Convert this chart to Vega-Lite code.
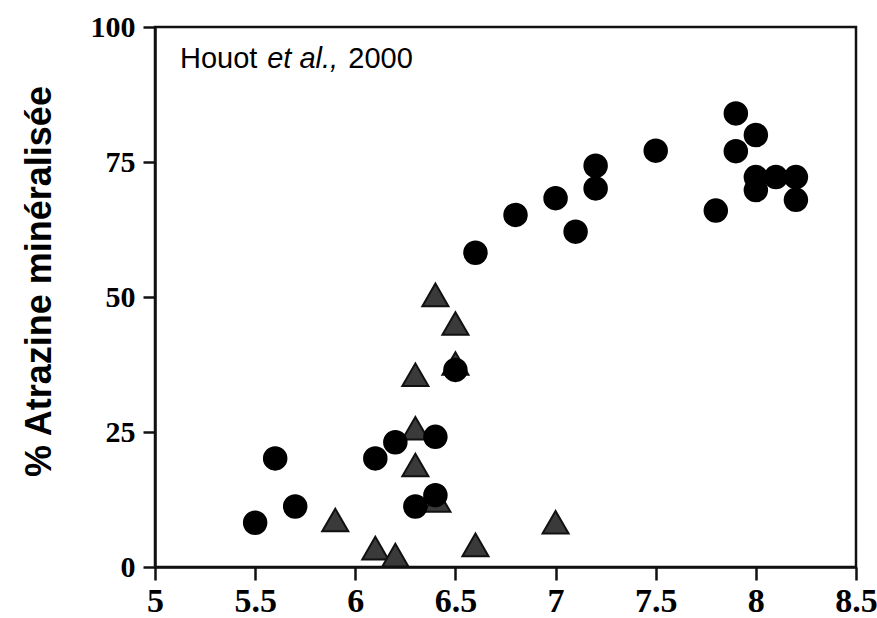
{
  "$schema": "https://vega.github.io/schema/vega-lite/v6.json",
  "width": 701,
  "height": 540,
  "autosize": "none",
  "padding": {"left": 155, "top": 27, "right": 21, "bottom": 51},
  "background": "white",
  "config": {
    "view": {"stroke": "#111", "strokeWidth": 2.5},
    "axis": {
      "grid": false,
      "domainColor": "#111",
      "domainWidth": 2.5,
      "tickColor": "#111",
      "tickWidth": 2.5,
      "labelColor": "black",
      "labelFont": "Liberation Serif",
      "labelFontWeight": "bold",
      "labelFlush": false,
      "labelOverlap": false
    }
  },
  "data": {
    "values": [
      {"pH": 6.4, "atrazine": 50.4, "serie": "triangle"},
      {"pH": 6.5, "atrazine": 45.1, "serie": "triangle"},
      {"pH": 6.3, "atrazine": 35.6, "serie": "triangle"},
      {"pH": 6.3, "atrazine": 25.7, "serie": "triangle"},
      {"pH": 6.3, "atrazine": 18.9, "serie": "triangle"},
      {"pH": 5.9, "atrazine": 8.7, "serie": "triangle"},
      {"pH": 6.1, "atrazine": 3.5, "serie": "triangle"},
      {"pH": 6.2, "atrazine": 2.2, "serie": "triangle"},
      {"pH": 6.6, "atrazine": 4.1, "serie": "triangle"},
      {"pH": 7.0, "atrazine": 8.3, "serie": "triangle"},
      {"pH": 6.5, "atrazine": 37.7, "serie": "triangle"},
      {"pH": 6.41, "atrazine": 12.3, "serie": "triangle"},
      {"pH": 5.5, "atrazine": 8.2, "serie": "cercle"},
      {"pH": 5.6, "atrazine": 20.1, "serie": "cercle"},
      {"pH": 5.7, "atrazine": 11.2, "serie": "cercle"},
      {"pH": 6.1, "atrazine": 20.1, "serie": "cercle"},
      {"pH": 6.2, "atrazine": 23.1, "serie": "cercle"},
      {"pH": 6.3, "atrazine": 11.2, "serie": "cercle"},
      {"pH": 6.4, "atrazine": 24.1, "serie": "cercle"},
      {"pH": 6.4, "atrazine": 13.3, "serie": "cercle"},
      {"pH": 6.5, "atrazine": 36.5, "serie": "cercle"},
      {"pH": 6.6, "atrazine": 58.2, "serie": "cercle"},
      {"pH": 6.8, "atrazine": 65.2, "serie": "cercle"},
      {"pH": 7.0, "atrazine": 68.3, "serie": "cercle"},
      {"pH": 7.1, "atrazine": 62.1, "serie": "cercle"},
      {"pH": 7.2, "atrazine": 74.3, "serie": "cercle"},
      {"pH": 7.2, "atrazine": 70.1, "serie": "cercle"},
      {"pH": 7.5, "atrazine": 77.1, "serie": "cercle"},
      {"pH": 7.8, "atrazine": 66.0, "serie": "cercle"},
      {"pH": 7.9, "atrazine": 84.0, "serie": "cercle"},
      {"pH": 7.9, "atrazine": 77.0, "serie": "cercle"},
      {"pH": 8.0, "atrazine": 80.0, "serie": "cercle"},
      {"pH": 8.0, "atrazine": 72.2, "serie": "cercle"},
      {"pH": 8.0, "atrazine": 69.8, "serie": "cercle"},
      {"pH": 8.1, "atrazine": 72.2, "serie": "cercle"},
      {"pH": 8.2, "atrazine": 72.2, "serie": "cercle"},
      {"pH": 8.2, "atrazine": 68.0, "serie": "cercle"}
    ]
  },
  "layer": [
    {
      "transform": [{"filter": "datum.serie === 'triangle'"}],
      "mark": {"type": "point", "shape": "triangle-up", "filled": true, "fill": "#3a3a3a", "stroke": "#111", "strokeWidth": 2, "opacity": 1, "size": 680},
      "encoding": {
        "x": {
          "field": "pH", "type": "quantitative",
          "scale": {"domain": [5, 8.5], "nice": false, "zero": false},
          "axis": {"title": null, "values": [5, 5.5, 6, 6.5, 7, 7.5, 8, 8.5], "format": "~g", "labelFontSize": 34, "tickSize": 13, "labelPadding": 4}
        },
        "y": {
          "field": "atrazine", "type": "quantitative",
          "scale": {"domain": [0, 100], "nice": false},
          "axis": {
            "values": [0, 25, 50, 75, 100], "labelFontSize": 30, "tickSize": 12, "labelPadding": 8,
            "title": "% Atrazine minéralisée",
            "titleFont": "Liberation Sans", "titleFontSize": 36, "titleFontWeight": "bold", "titleColor": "black",
            "titleAngle": -90, "titleAlign": "center", "titleBaseline": "alphabetic",
            "titleX": -105, "titleY": 254
          }
        }
      }
    },
    {
      "transform": [{"filter": "datum.serie === 'cercle'"}],
      "mark": {"type": "point", "shape": "circle", "filled": true, "fill": "black", "opacity": 1, "size": 600},
      "encoding": {
        "x": {"field": "pH", "type": "quantitative"},
        "y": {"field": "atrazine", "type": "quantitative"}
      }
    },
    {
      "data": {"values": [{"t": "Houot"}]},
      "mark": {"type": "text", "font": "Liberation Sans", "fontSize": 29, "align": "left", "baseline": "alphabetic", "color": "black"},
      "encoding": {"x": {"datum": 5.125}, "y": {"datum": 92.4}, "text": {"field": "t"}}
    },
    {
      "data": {"values": [{"t": "et al.,"}]},
      "mark": {"type": "text", "font": "Liberation Sans", "fontSize": 29, "fontStyle": "italic", "align": "left", "baseline": "alphabetic", "color": "black"},
      "encoding": {"x": {"datum": 5.56}, "y": {"datum": 92.4}, "text": {"field": "t"}}
    },
    {
      "data": {"values": [{"t": "2000"}]},
      "mark": {"type": "text", "font": "Liberation Sans", "fontSize": 29, "align": "left", "baseline": "alphabetic", "color": "black"},
      "encoding": {"x": {"datum": 5.965}, "y": {"datum": 92.4}, "text": {"field": "t"}}
    }
  ]
}
